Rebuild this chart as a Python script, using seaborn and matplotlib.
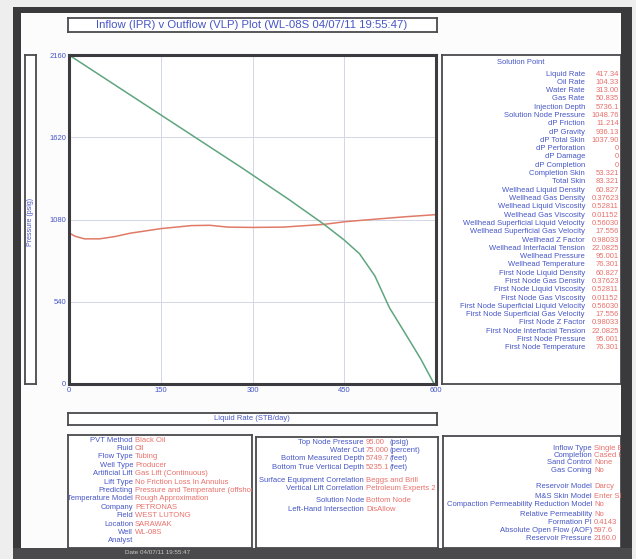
import matplotlib
matplotlib.use("Agg")
import matplotlib.pyplot as plt
import seaborn as sns
import pandas as pd
from matplotlib.patches import Rectangle

# ---------------- data ----------------
ipr_rate = [0, 100, 200, 282, 360, 417, 450, 475, 500, 524, 550, 575, 597]
ipr_pres = [2160, 1898, 1636, 1421, 1210, 1048, 945, 855, 710, 500, 330, 165, 0]

vlp_rate = [0, 10, 25, 50, 75, 100, 150, 200, 230, 260, 300, 350, 417, 450, 500, 550, 600]
vlp_pres = [992, 970, 953, 953, 968, 990, 1020, 1040, 1042, 1030, 1028, 1030, 1048, 1065, 1082, 1098, 1112]

x_ticks = [0, 150, 300, 450, 600]
y_ticks = [0, 540, 1080, 1620, 2160]

title = "Inflow (IPR) v Outflow (VLP) Plot (WL-08S 04/07/11 19:55:47)"
x_label = "Liquid Rate (STB/day)"
y_label = "Pressure (psig)"

sol_labels = ["Liquid Rate", "Oil Rate", "Water Rate", "Gas Rate", "Injection Depth",
              "Solution Node Pressure", "dP Friction", "dP Gravity", "dP Total Skin",
              "dP Perforation", "dP Damage", "dP Completion", "Completion Skin", "Total Skin",
              "Wellhead Liquid Density", "Wellhead Gas Density", "Wellhead Liquid Viscosity",
              "Wellhead Gas Viscosity", "Wellhead Superficial Liquid Velocity",
              "Wellhead Superficial Gas Velocity", "Wellhead Z Factor",
              "Wellhead Interfacial Tension", "Wellhead Pressure", "Wellhead Temperature",
              "First Node Liquid Density", "First Node Gas Density", "First Node Liquid Viscosity",
              "First Node Gas Viscosity", "First Node Superficial Liquid Velocity",
              "First Node Superficial Gas Velocity", "First Node Z Factor",
              "First Node Interfacial Tension", "First Node Pressure", "First Node Temperature"]
sol_values = ["417.34", "104.33", "313.00", "50.835", "5736.1", "1048.76", "11.214",
              "936.13", "1037.90", "0", "0", "0", "53.321", "83.321",
              "60.827", "0.37623", "0.52811", "0.01152", "0.56030", "17.556",
              "0.98033", "22.0825", "95.001", "76.301",
              "60.827", "0.37623", "0.52811", "0.01152", "0.56030", "17.556",
              "0.98033", "22.0825", "95.001", "76.301"]

box1_labels = ["PVT Method", "Fluid", "Flow Type", "Well Type", "Artificial Lift", "Lift Type",
               "Predicting", "Temperature Model", "Company", "Field", "Location", "Well", "Analyst"]
box1_values = ["Black Oil", "Oil", "Tubing", "Producer", "Gas Lift (Continuous)",
               "No Friction Loss In Annulus", "Pressure and Temperature (offshore)",
               "Rough Approximation", "PETRONAS", "WEST LUTONG", "SARAWAK", "WL-08S", ""]

box2_labels = ["Top Node Pressure", "Water Cut", "Bottom Measured Depth", "Bottom True Vertical Depth",
               "Surface Equipment Correlation", "Vertical Lift Correlation",
               "Solution Node", "Left-Hand Intersection"]
box2_values = ["95.00", "75.000", "5749.7", "5235.1", "Beggs and Brill", "Petroleum Experts 2",
               "Bottom Node", "DisAllow"]
box2_units = ["(psig)", "(percent)", "(feet)", "(feet)", "", "", "", ""]

box3_labels = ["Inflow Type", "Completion", "Sand Control", "Gas Coning", "Reservoir Model",
               "M&S Skin Model", "Compaction Permeability Reduction Model", "Relative Permeability",
               "Formation PI", "Absolute Open Flow (AOF)", "Reservoir Pressure"]
box3_values = ["Single Br", "Cased H", "None", "No", "Darcy", "Enter Sk", "No",
               "No", "0.4143", "597.6", "2160.0"]

footer = "Date 04/07/11 19:55:47"

# ---------------- style ----------------
W, H = 636, 559
BLUE = "#4656c6"
RED_T = "#e8706a"
GREEN = "#5fa57e"
RED_L = "#e07a66"
EDGE = "#4a4a4e"
DARK = "#3a3a3c"
FS = 5.5

sns.set_style("white")
plt.rcParams['font.family'] = ['Liberation Sans', 'DejaVu Sans']

fig = plt.figure(figsize=(6.36, 5.59), dpi=100, facecolor="#eeeeee")


def rect(x0, y0, x1, y1):
    return [x0 / W, 1 - y1 / H, (x1 - x0) / W, (y1 - y0) / H]


bg = fig.add_axes([0, 0, 1, 1])
bg.set_xlim(0, W)
bg.set_ylim(H, 0)
bg.axis('off')
bg.set_zorder(-5)
bg.add_patch(Rectangle((13, 7), 619, 552, facecolor="#fcfcfc", edgecolor='none'))


def panel(x0, y0, x1, y1, lw=1.3):
    a = fig.add_axes(rect(x0, y0, x1, y1))
    a.set_xlim(x0, x1)
    a.set_ylim(y1, y0)
    a.set_xticks([])
    a.set_yticks([])
    a.set_facecolor('white')
    for s in a.spines.values():
        s.set_visible(True)
        s.set_color(EDGE)
        s.set_linewidth(lw)
    return a


# title box
t = panel(68, 18, 437, 32)
t.text(252, 25, title, ha='center', va='center', fontsize=8.2, color=BLUE, clip_on=True)

# y-label box
yl = panel(25, 55, 36, 384)
yl.text(30.5, 222, y_label, ha='center', va='center', rotation=90, fontsize=5, color=BLUE)

# x-label box
xl = panel(68, 413, 437, 425)
xl.text(252, 419, x_label, ha='center', va='center', fontsize=FS, color=BLUE)

# main plot
ax = fig.add_axes(rect(69, 55, 436, 384))
ipr_df = pd.DataFrame({"rate": ipr_rate, "pres": ipr_pres})
vlp_df = pd.DataFrame({"rate": vlp_rate, "pres": vlp_pres})
sns.lineplot(data=vlp_df, x="rate", y="pres", ax=ax, color=RED_L, lw=1.1)
sns.lineplot(data=ipr_df, x="rate", y="pres", ax=ax, color=GREEN, lw=1.1)
ax.set_xlim(0, 600)
ax.set_ylim(0, 2160)
ax.set_xticks(x_ticks)
ax.set_yticks(y_ticks)
ax.set_xticklabels([str(v) for v in x_ticks])
ax.set_yticklabels([str(v) for v in y_ticks])
ax.grid(True, color="#d3d6e6", lw=0.7)
ax.tick_params(length=0, labelsize=FS, labelcolor=BLUE, pad=2)
ax.set_xlabel('')
ax.set_ylabel('')
ax.set_facecolor('white')
for s in ax.spines.values():
    s.set_visible(True)
    s.set_color("#3c3c40")
    s.set_linewidth(2.2)

# solution point panel
sp = panel(442, 55, 621, 384)
sp.text(521, 63, "Solution Point", ha='center', va='center', fontsize=FS, color=BLUE)
for i, (lab, val) in enumerate(zip(sol_labels, sol_values)):
    y = 74 + i * 8.3
    sp.text(585, y, lab, ha='right', va='center', fontsize=FS, color=BLUE, clip_on=True)
    sp.text(619, y, val, ha='right', va='center', fontsize=FS, color=RED_T, clip_on=True)

# bottom box 1
b1 = panel(68, 435, 252, 548)
for i, (lab, val) in enumerate(zip(box1_labels, box1_values)):
    y = 440 + i * 8.4
    b1.text(133, y, lab, ha='right', va='center', fontsize=FS, color=BLUE, clip_on=True)
    b1.text(135, y, val, ha='left', va='center', fontsize=FS, color=RED_T, clip_on=True)

# bottom box 2
b2 = panel(256, 437, 438, 548)
b2_y = [442, 450.5, 459, 467.5, 480, 488.5, 501, 509.5]
for y, lab, val, un in zip(b2_y, box2_labels, box2_values, box2_units):
    b2.text(364, y, lab, ha='right', va='center', fontsize=FS, color=BLUE, clip_on=True)
    b2.text(366, y, val, ha='left', va='center', fontsize=FS, color=RED_T, clip_on=True)
    if un:
        b2.text(390, y, un, ha='left', va='center', fontsize=FS, color=BLUE, clip_on=True)

# bottom box 3
b3 = panel(443, 436, 621, 548)
b3_y = [448, 455.5, 463, 471, 486, 497, 505, 514, 522, 530, 538]
for y, lab, val in zip(b3_y, box3_labels, box3_values):
    b3.text(592, y, lab, ha='right', va='center', fontsize=FS, color=BLUE, clip_on=True)
    b3.text(594, y, val, ha='left', va='center', fontsize=FS, color=RED_T, clip_on=True)

# outer dark frame on top
fr = fig.add_axes([0, 0, 1, 1])
fr.set_xlim(0, W)
fr.set_ylim(H, 0)
fr.axis('off')
fr.set_zorder(20)
fr.patch.set_alpha(0)
fr.add_patch(Rectangle((13, 7), 8, 545, facecolor=DARK, edgecolor='none'))
fr.add_patch(Rectangle((13, 7), 619, 6, facecolor=DARK, edgecolor='none'))
fr.add_patch(Rectangle((621, 7), 11, 545, facecolor=DARK, edgecolor='none'))
fr.add_patch(Rectangle((13, 548), 619, 11, facecolor="#4a4a4c", edgecolor='none'))
fr.text(125, 553, footer, ha='left', va='center', fontsize=4.5, color="#c8c8c8")

fig.savefig("out.png", dpi=100, facecolor=fig.get_facecolor())
